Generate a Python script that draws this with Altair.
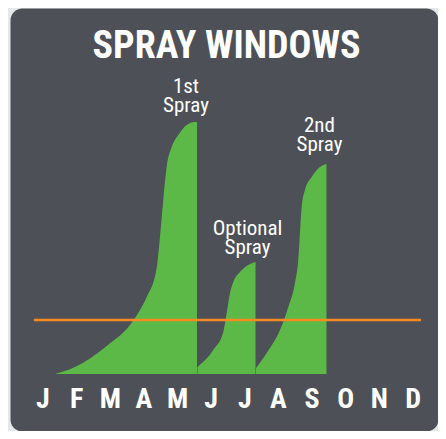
import altair as alt
import pandas as pd

# ---- data (x: month number, J=1 .. D=12; y: relative pest pressure) ----
months = ["J", "F", "M", "A", "M", "J", "J", "A", "S", "O", "N", "D"]
month_num = list(range(1, 13))

spray1_x = [1.357, 1.951, 2.932, 3.586, 3.883, 4.083, 4.380, 4.478, 4.576, 4.677, 4.826, 5.022, 5.272, 5.518, 5.578]
spray1_y = [0, 7, 29, 49, 64, 77, 106, 137, 174, 207, 227, 239, 249, 252, 252]

spray2_x = [5.591, 6.062, 6.360, 6.461, 6.559, 6.657, 6.856, 7.103, 7.317]
spray2_y = [7, 24, 42, 61, 81, 92, 102, 109, 112]

spray3_x = [7.332, 7.650, 8.045, 8.292, 8.491, 8.589, 8.690, 8.788, 8.987, 9.234, 9.427]
spray3_y = [6, 21, 44, 67, 91, 114, 167, 184, 197, 207, 210]

threshold = 54
threshold_start, threshold_end = 0.732, 12.237

label_text = ["1st\nSpray", "Optional\nSpray", "2nd\nSpray"]
label_x = [5.251, 7.079, 9.219]
label_y = [281, 139, 242]

month_label_y = -34

# ---- styling ----
BG = "#e6e7e8"
PANEL = "#4d5057"
GREEN = "#5cb947"
ORANGE = "#f58a21"
FONT = "Roboto Condensed, Roboto, sans-serif"

xscale = alt.Scale(domain=[0.02, 12.742], nice=False, zero=False)
yscale = alt.Scale(domain=[-57, 366], nice=False, zero=False)


def area_layer(xs, ys):
    df = pd.DataFrame({"month": xs, "pressure": ys, "base": [0] * len(xs)})
    return alt.Chart(df).mark_area(color=GREEN, interpolate="monotone").encode(
        x=alt.X("month:Q", scale=xscale, axis=None),
        y=alt.Y("pressure:Q", scale=yscale, axis=None),
        y2="base:Q",
    )


areas = [area_layer(spray1_x, spray1_y), area_layer(spray2_x, spray2_y), area_layer(spray3_x, spray3_y)]

rule_df = pd.DataFrame({"x": [threshold_start], "x2": [threshold_end], "y": [threshold]})
labels_df = pd.DataFrame({"text": label_text, "month": label_x, "pressure": label_y})
months_df = pd.DataFrame({"m": months, "month": month_num, "pressure": [month_label_y] * 12})

rule = alt.Chart(rule_df).mark_rule(color=ORANGE, strokeWidth=2.5).encode(
    x=alt.X("x:Q", scale=xscale, axis=None),
    x2="x2:Q",
    y=alt.Y("y:Q", scale=yscale, axis=None),
)

labels = alt.Chart(labels_df).mark_text(
    color="white", font=FONT, fontSize=21, baseline="alphabetic", align="center",
    lineBreak="\n", lineHeight=19
).encode(
    x=alt.X("month:Q", scale=xscale, axis=None),
    y=alt.Y("pressure:Q", scale=yscale, axis=None),
    text="text:N",
)

month_labels = alt.Chart(months_df).mark_text(
    color="white", font=FONT, fontSize=28, fontWeight="bold", baseline="alphabetic", align="center"
).encode(
    x=alt.X("month:Q", scale=xscale, axis=None),
    y=alt.Y("pressure:Q", scale=yscale, axis=None),
    text="m:N",
)

title = alt.Chart(pd.DataFrame({"t": ["SPRAY WINDOWS"]})).mark_text(
    color="white", font=FONT, fontSize=38, fontWeight="bold", baseline="alphabetic",
    align="center"
).encode(
    x=alt.value(216.5),
    y=alt.value(50),
    text="t:N",
)

chart = alt.layer(*areas, rule, labels, month_labels, title).properties(
    width=428,
    height=423,
    autosize=alt.AutoSizeParams(type="none"),
    padding={"left": 2, "top": 0, "right": 0, "bottom": 0},
    background=BG,
).configure_view(
    fill=PANEL, stroke="transparent", cornerRadius=12
)

chart.save("out.html", embed_options={"renderer": "svg", "actions": False})
